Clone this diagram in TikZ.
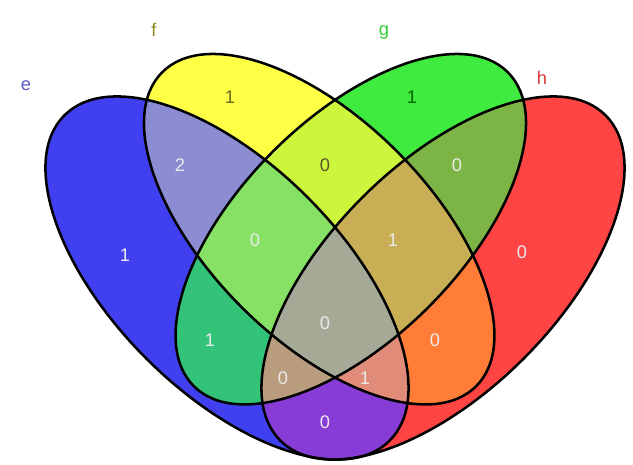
\documentclass[tikz,border=0pt]{standalone}
\usepackage{fontspec}
\setmainfont{Liberation Sans}

\definecolor{setE}{RGB}{64,64,240}
\definecolor{setF}{RGB}{255,255,70}
\definecolor{setG}{RGB}{64,235,64}
\definecolor{setH}{RGB}{255,68,68}
\definecolor{setEF}{RGB}{140,140,210}
\definecolor{setFG}{RGB}{205,245,60}
\definecolor{setGH}{RGB}{125,180,70}
\definecolor{setEG}{RGB}{50,195,120}
\definecolor{setFH}{RGB}{255,125,55}
\definecolor{setEH}{RGB}{135,60,215}
\definecolor{setEFG}{RGB}{135,225,100}
\definecolor{setFGH}{RGB}{200,175,85}
\definecolor{setEFH}{RGB}{225,140,120}
\definecolor{setEGH}{RGB}{185,155,125}
\definecolor{setEFGH}{RGB}{165,170,150}

\begin{document}
\begin{tikzpicture}[
  font=\fontsize{13}{15}\selectfont,
  ellE/.style={shift={(5.675,4.65)}, rotate=-45},
  ellF/.style={shift={(7.98,5.87)}, rotate=-45},
  ellG/.style={shift={(8.77,5.87)}, rotate=45},
  ellH/.style={shift={(11.075,4.65)}, rotate=45},
  outline/.style={draw=black, line width=1.8pt},
  num/.style={text=white!92!black, inner sep=1pt},
  numdark/.style={inner sep=1pt},
  setlabel/.style={inner sep=1pt}
]
\useasboundingbox (0,0) rectangle (15.825,11.6);

% single sets
\fill[setE, ellE] (0,0) ellipse (5.75 and 2.85);
\fill[setF, ellF] (0,0) ellipse (5.55 and 2.75);
\fill[setG, ellG] (0,0) ellipse (5.55 and 2.75);
\fill[setH, ellH] (0,0) ellipse (5.75 and 2.85);

% pairs
\begin{scope}
  \clip[ellE] (0,0) ellipse (5.75 and 2.85);
  \fill[setEF, ellF] (0,0) ellipse (5.55 and 2.75);
\end{scope}
\begin{scope}
  \clip[ellE] (0,0) ellipse (5.75 and 2.85);
  \fill[setEG, ellG] (0,0) ellipse (5.55 and 2.75);
\end{scope}
\begin{scope}
  \clip[ellE] (0,0) ellipse (5.75 and 2.85);
  \fill[setEH, ellH] (0,0) ellipse (5.75 and 2.85);
\end{scope}
\begin{scope}
  \clip[ellF] (0,0) ellipse (5.55 and 2.75);
  \fill[setFG, ellG] (0,0) ellipse (5.55 and 2.75);
\end{scope}
\begin{scope}
  \clip[ellF] (0,0) ellipse (5.55 and 2.75);
  \fill[setFH, ellH] (0,0) ellipse (5.75 and 2.85);
\end{scope}
\begin{scope}
  \clip[ellG] (0,0) ellipse (5.55 and 2.75);
  \fill[setGH, ellH] (0,0) ellipse (5.75 and 2.85);
\end{scope}

% triples
\begin{scope}
  \clip[ellE] (0,0) ellipse (5.75 and 2.85);
  \clip[ellF] (0,0) ellipse (5.55 and 2.75);
  \fill[setEFG, ellG] (0,0) ellipse (5.55 and 2.75);
  \fill[setEFH, ellH] (0,0) ellipse (5.75 and 2.85);
\end{scope}
\begin{scope}
  \clip[ellE] (0,0) ellipse (5.75 and 2.85);
  \clip[ellG] (0,0) ellipse (5.55 and 2.75);
  \fill[setEGH, ellH] (0,0) ellipse (5.75 and 2.85);
\end{scope}
\begin{scope}
  \clip[ellF] (0,0) ellipse (5.55 and 2.75);
  \clip[ellG] (0,0) ellipse (5.55 and 2.75);
  \fill[setFGH, ellH] (0,0) ellipse (5.75 and 2.85);
\end{scope}

% all four
\begin{scope}
  \clip[ellE] (0,0) ellipse (5.75 and 2.85);
  \clip[ellF] (0,0) ellipse (5.55 and 2.75);
  \clip[ellG] (0,0) ellipse (5.55 and 2.75);
  \fill[setEFGH, ellH] (0,0) ellipse (5.75 and 2.85);
\end{scope}

% outlines
\draw[outline, ellE] (0,0) ellipse (5.75 and 2.85);
\draw[outline, ellF] (0,0) ellipse (5.55 and 2.75);
\draw[outline, ellG] (0,0) ellipse (5.55 and 2.75);
\draw[outline, ellH] (0,0) ellipse (5.75 and 2.85);

% set names
\node[setlabel, text=setE!60!gray]  (nameE) at (0.65,9.45)  {e};
\node[setlabel, text=olive!80!gray] (nameF) at (3.85,10.85) {f};
\node[setlabel, text=green!60!gray] (nameG) at (9.6,10.8)   {g};
\node[setlabel, text=setH!85!black] (nameH) at (13.55,9.65) {h};

% region counts
\node[num]     (cE)    at (3.125,5.225) {1};
\node[numdark, text=olive!70!black] (cF) at (5.75,9.175) {1};
\node[numdark, text=green!40!black] (cG) at (10.3,9.175) {1};
\node[num]     (cH)    at (13.05,5.3)   {0};
\node[num]     (cEF)   at (4.5,7.475)   {2};
\node[numdark, text=olive!50!black] (cFG) at (8.125,7.475) {0};
\node[num]     (cGH)   at (11.425,7.475) {0};
\node[num]     (cEFG)  at (6.375,5.6)   {0};
\node[num]     (cFGH)  at (9.825,5.6)   {1};
\node[num]     (cEFGH) at (8.125,3.525) {0};
\node[num]     (cEG)   at (5.25,3.1)    {1};
\node[num]     (cFH)   at (10.875,3.1)  {0};
\node[num]     (cEGH)  at (7.075,2.15)  {0};
\node[num]     (cEFH)  at (9.125,2.15)  {1};
\node[num]     (cEH)   at (8.125,1.05)  {0};

\end{tikzpicture}
\end{document}
